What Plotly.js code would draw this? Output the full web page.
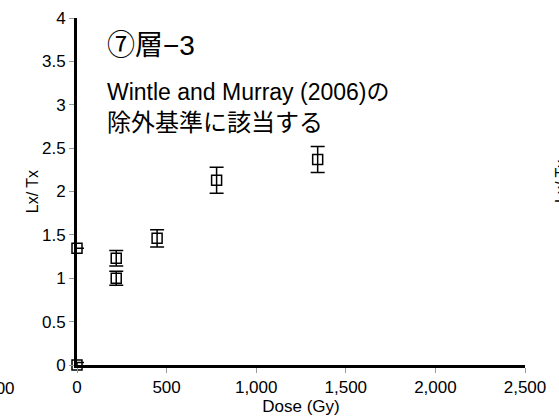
<!DOCTYPE html>
<html>
<head>
<meta charset="utf-8">
<script src="https://cdn.plot.ly/plotly-3.0.1.min.js"></script>
<style>html,body{margin:0;padding:0;background:#fff;}#chart{width:559px;height:418px;}</style>
</head>
<body>
<div id="chart"></div>
<script>
// Data
const doseGy = [0, 0, 219, 219, 447, 779, 1343];
const lxTx = [0, 1.345, 1.0, 1.23, 1.46, 2.13, 2.37];
const lxTxErr = [0.03, 0, 0.08, 0.09, 0.1, 0.15, 0.15];
const xTickVals = [0, 500, 1000, 1500, 2000, 2500];
const xTickText = ["0", "500", "1,000", "1,500", "2,000", "2,500"];
const yTickVals = [0, 0.5, 1, 1.5, 2, 2.5, 3, 3.5, 4];
const yTickText = ["0", "0.5", "1", "1.5", "2", "2.5", "3", "3.5", "4"];

const FONT = "Liberation Sans, Arial, Noto Sans CJK JP, sans-serif";

const trace = {
  type: "scatter",
  mode: "markers",
  x: doseGy,
  y: lxTx,
  cliponaxis: false,
  marker: {symbol: "square-open", size: 10, color: "#000", line: {width: 1.5, color: "#000"}},
  error_y: {type: "data", array: lxTxErr, visible: true, color: "#000", thickness: 1.5, width: 7}
};

const layout = {
  width: 559, height: 418,
  margin: {l: 77, r: 34, t: 18, b: 53},
  paper_bgcolor: "#fff", plot_bgcolor: "#fff",
  showlegend: false,
  font: {family: FONT, size: 16, color: "#000"},
  xaxis: {
    range: [0, 2500], tickvals: xTickVals, ticktext: xTickText,
    showline: true, linecolor: "#000", linewidth: 3,
    ticks: "outside", ticklen: 5, tickcolor: "#999", tickwidth: 1,
    showgrid: false, zeroline: false,
    tickfont: {family: FONT, size: 17, color: "#000"},
    title: {text: "Dose (Gy)", font: {family: FONT, size: 17, color: "#000"}, standoff: 0}
  },
  yaxis: {
    range: [0, 4], tickvals: yTickVals, ticktext: yTickText,
    showline: true, linecolor: "#000", linewidth: 3,
    ticks: "outside", ticklen: 5, tickcolor: "#999", tickwidth: 1,
    showgrid: false, zeroline: false,
    tickfont: {family: FONT, size: 17, color: "#000"},
    title: {text: "Lx/ Tx", font: {family: FONT, size: 16, color: "#000"}, standoff: 0}
  },
  annotations: [
    {xref: "paper", yref: "paper", x: 0.063, y: 0.922, xanchor: "left", yanchor: "middle",
     text: "⑦層−3", showarrow: false, font: {family: FONT, size: 28, color: "#000"}},
    {xref: "paper", yref: "paper", x: 0.063, y: 0.787, xanchor: "left", yanchor: "middle",
     text: "Wintle and Murray (2006)の", showarrow: false, font: {family: FONT, size: 23, color: "#000"}},
    {xref: "paper", yref: "paper", x: 0.063, y: 0.70, xanchor: "left", yanchor: "middle",
     text: "除外基準に該当する", showarrow: false, font: {family: FONT, size: 24, color: "#000"}},
    {xref: "paper", yref: "paper", x: -0.135, y: -0.068, xanchor: "right", yanchor: "middle",
     text: "2,500", showarrow: false, font: {family: FONT, size: 17, color: "#000"}},
    {xref: "paper", yref: "paper", x: 1.08, y: 0.53, xanchor: "center", yanchor: "middle", textangle: -90,
     text: "Lx/ Tx", showarrow: false, font: {family: FONT, size: 16, color: "#000"}}
  ]
};

Plotly.newPlot("chart", [trace], layout, {staticPlot: true, displayModeBar: false});
</script>
</body>
</html>
